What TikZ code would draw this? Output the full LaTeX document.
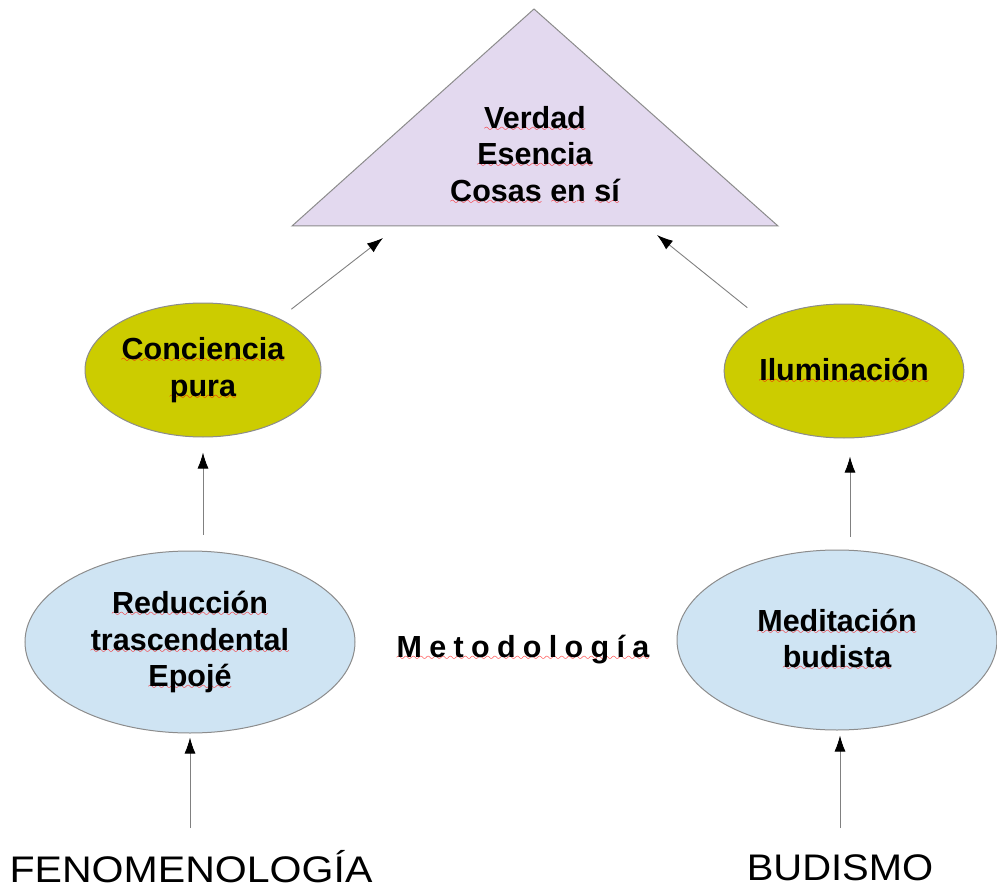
\documentclass[tikz,border=0pt]{standalone}
\usepackage{fontspec}
\usepackage{graphicx}
\setmainfont{Liberation Sans}
\usetikzlibrary{arrows.meta,shapes.geometric}
\font\wavefnt=lasy10 at 11pt
\newcommand\rw[1]{\setbox0\hbox{#1}\rlap{\textcolor{red}{\lower3pt\hbox to\wd0{\xleaders\hbox{\wavefnt\char58}\hfil}}}\box0\relax}
\definecolor{lav}{HTML}{E3D9EF}
\definecolor{ylw}{HTML}{CCCC00}
\definecolor{lblue}{HTML}{CFE4F3}
\definecolor{bord}{HTML}{8C8C8C}
\begin{document}
\begin{tikzpicture}[x=1pt,y=-1pt,
  lbl/.style={font=\fontsize{30.5}{36.5}\selectfont\bfseries, align=center, text=black},
  oval/.style={ellipse, draw=bord, line width=1pt, inner sep=0pt},
  arr/.style={draw=gray, line width=0.9pt, -{Latex[length=16pt,width=11pt,color=black]}},
  big/.style={font=\fontsize{37}{44}\selectfont, text=black, anchor=base, inner sep=0pt}]
\useasboundingbox (0,0) rectangle (997,888);
% triangle
\coordinate (apex) at (534,9);
\coordinate (bl) at (292,226);
\coordinate (br) at (778,226);
\filldraw[fill=lav, draw=bord, line width=1pt] (apex) -- (bl) -- (br) -- cycle;
\node[lbl] (tri) at (535,155) {\rw{Verdad}\\\rw{Esencia}\\\rw{Cosas} \rw{en} \rw{sí}};
% ellipses
\node[oval, fill=ylw, minimum width=236pt, minimum height=134pt, lbl] (con) at (203,370) {\rw{Conciencia}\\\rw{pura}};
\node[oval, fill=ylw, minimum width=236pt, minimum height=134pt, lbl] (ilu) at (844,371) {\rw{Iluminación}};
\node[oval, fill=lblue, minimum width=330pt, minimum height=182pt, lbl] (red) at (190,642) {\rw{Reducción}\\\rw{trascendental}\\\rw{Epojé}};
\node[oval, fill=lblue, minimum width=320pt, minimum height=180pt, lbl] (med) at (837,640) {\rw{Meditación}\\\rw{budista}};
% labels (text positions nudged to match)
\node[lbl] (met) at (523,650) {\rw{M\kern7.3pt e\kern7.3pt t\kern7.3pt o\kern7.3pt d\kern7.3pt o\kern7.3pt l\kern7.3pt o\kern7.3pt g\kern7.3pt í\kern7.3pt a}};
\node[big] (fen) at (191,882) {\scalebox{1.11}[1]{FENOMENOLOGÍA}};
\node[big] (bud) at (840,880) {\scalebox{1.08}[1]{BUDISMO}};
% connectors
\coordinate (c1) at (190,828);
\coordinate (c2) at (840,828);
\coordinate (a4) at (850,0);
\coordinate (t1) at (383,238);
\coordinate (t2) at (657,235);
\draw[arr, shorten >=4pt] (c1) -- (c1 |- red.south);
\draw[arr, shorten >=5pt] (c2) -- (c2 |- med.south);
\draw[arr, shorten <=16pt, shorten >=15pt] (con.south |- red.north) -- (con.south);
\draw[arr, shorten <=13pt, shorten >=18pt] (a4 |- med.north) -- (a4 |- ilu.south);
\draw[arr, shorten <=15pt] (con.34) -- (t1);
\draw[arr, shorten <=21pt] (ilu.148) -- (t2);
\end{tikzpicture}
\end{document}
